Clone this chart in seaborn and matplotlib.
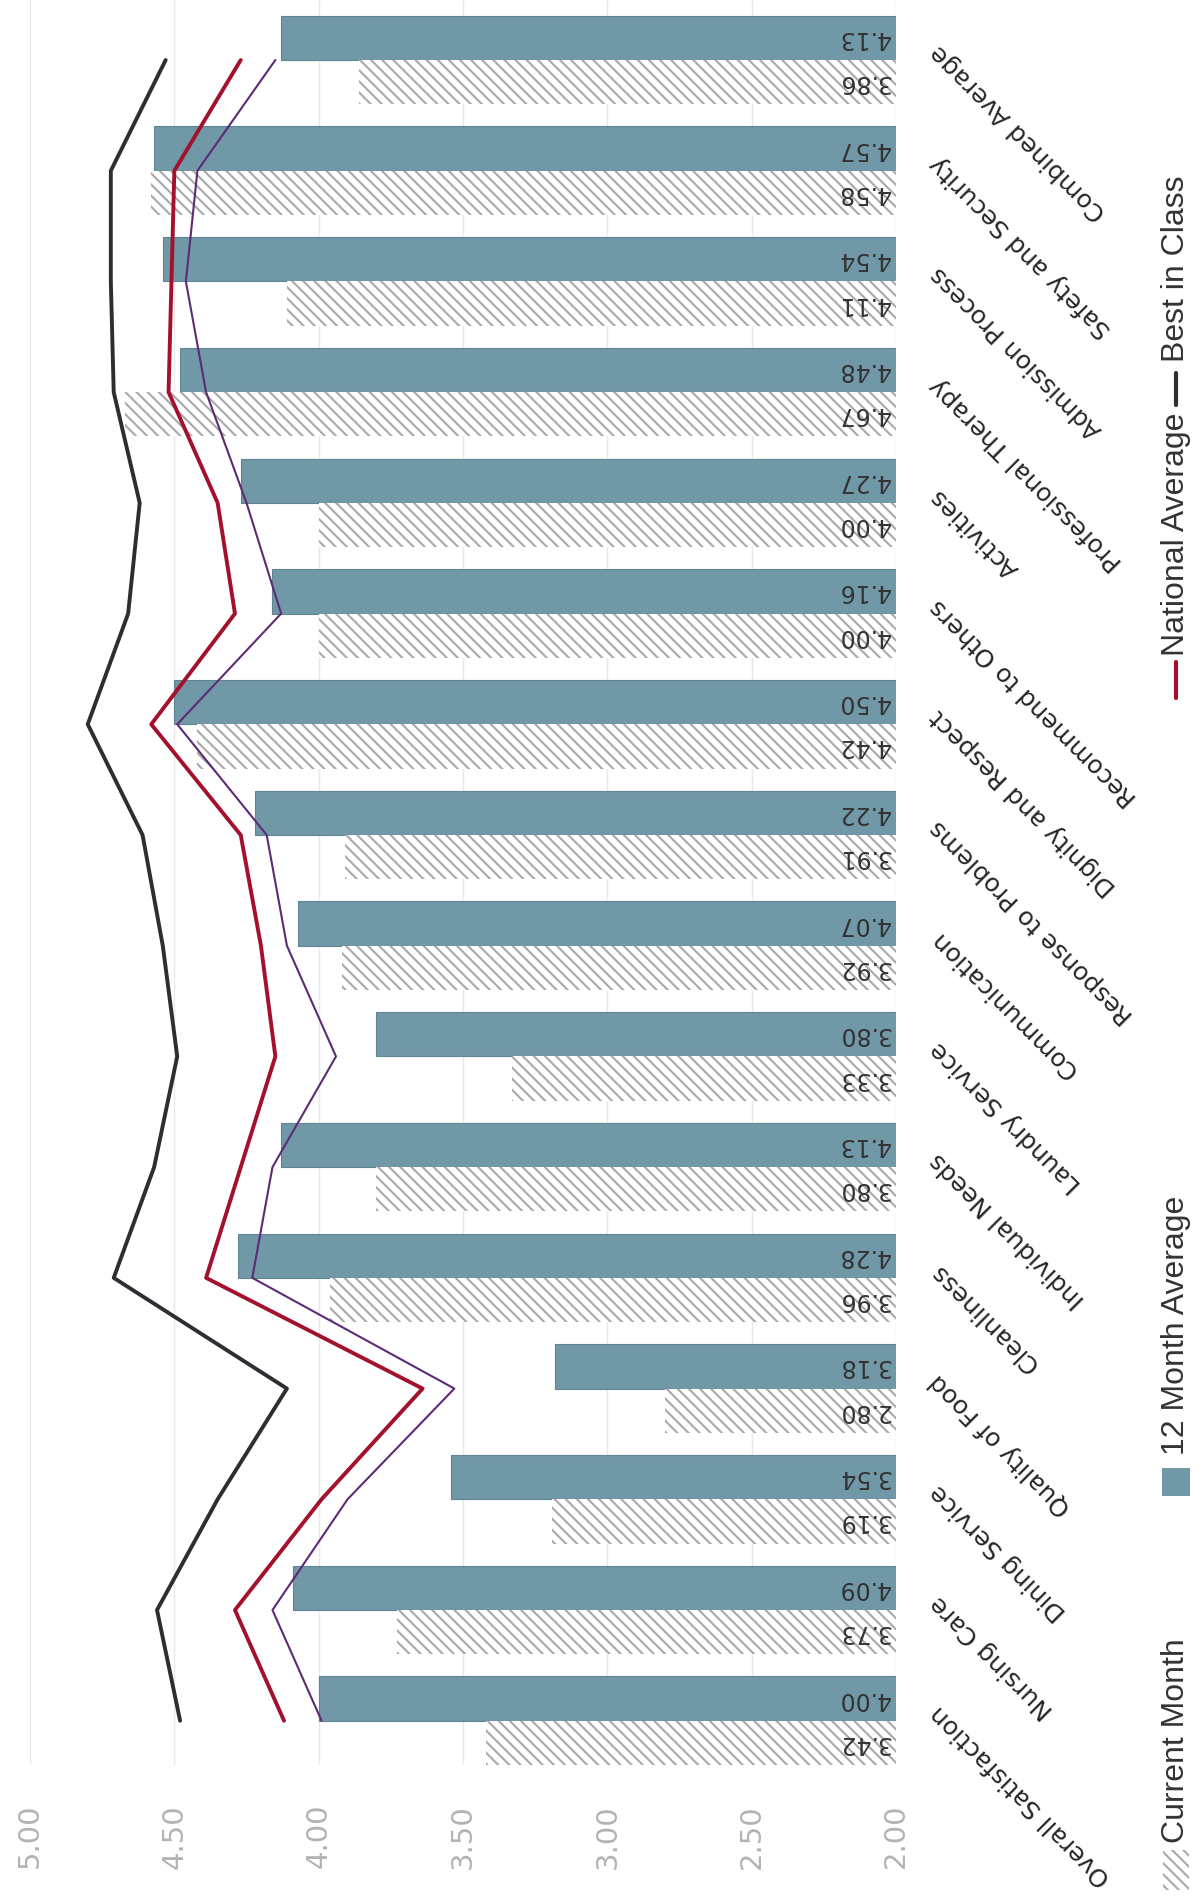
import pandas as pd
import matplotlib.pyplot as plt
import seaborn as sns
from matplotlib.patches import Rectangle
from matplotlib.lines import Line2D
from matplotlib.transforms import blended_transform_factory, ScaledTranslation

# data, in chart order (first category is the bottom row of the rotated page)
categories = ["Overall Satisfaction", "Nursing Care", "Dining Service", "Quality of Food",
              "Cleanliness", "Individual Needs", "Laundry Service", "Communication",
              "Response to Problems", "Dignity and Respect", "Recommend to Others",
              "Activities", "Professional Therapy", "Admission Process",
              "Safety and Security", "Combined Average"]
month12 = [4.00, 4.09, 3.54, 3.18, 4.28, 4.13, 3.80, 4.07, 4.22, 4.50, 4.16, 4.27, 4.48, 4.54, 4.57, 4.13]
current = [3.42, 3.73, 3.19, 2.80, 3.96, 3.80, 3.33, 3.92, 3.91, 4.42, 4.00, 4.00, 4.67, 4.11, 4.58, 3.86]
best_in_class = [4.48, 4.56, 4.35, 4.11, 4.71, 4.57, 4.49, 4.54, 4.61, 4.80, 4.66, 4.62, 4.71, 4.72, 4.72, 4.53]
national_avg = [4.12, 4.29, 3.99, 3.64, 4.39, 4.27, 4.15, 4.20, 4.27, 4.58, 4.29, 4.35, 4.52, 4.51, 4.50, 4.27]
trend_line = [3.99, 4.16, 3.90, 3.53, 4.23, 4.16, 3.94, 4.11, 4.18, 4.49, 4.13, 4.25, 4.39, 4.46, 4.42, 4.15]
value_ticks = [5.0, 4.5, 4.0, 3.5, 3.0, 2.5, 2.0]

BAR_BLUE = "#7198a7"
HATCH_GRAY = "#a9a9a9"
BEST_COL = "#2b2e33"
NAT_COL = "#a3112c"
TREND_COL = "#5d2b76"

sns.set_theme(style="white")
plt.rcParams['font.family'] = ['DejaVu Sans']
plt.rcParams['hatch.linewidth'] = 1.5

W, H = 1204, 1900
fig = plt.figure(figsize=(W / 100, H / 100), dpi=100)
ax = fig.add_axes([30 / W, 1 - 1765 / H, 866 / W, 1765 / H])

order = categories[::-1]
df = pd.DataFrame({
    "category": categories * 2,
    "score": month12 + current,
    "series": ["12 Month Average"] * len(categories) + ["Current Month"] * len(categories),
})
sns.barplot(data=df, x="score", y="category", hue="series", order=order,
            hue_order=["12 Month Average", "Current Month"],
            palette={"12 Month Average": BAR_BLUE, "Current Month": "white"},
            orient="h", width=0.8, saturation=1, legend=False, ax=ax)

for p in ax.containers[0]:
    p.set_edgecolor("#5f8594")
    p.set_linewidth(0.8)
for p in ax.containers[1]:
    p.set_hatch("\\\\\\")
    p.set_edgecolor(HATCH_GRAY)
    p.set_linewidth(0)

ypos = [order.index(c) for c in categories]
ax.plot(best_in_class, ypos, color=BEST_COL, lw=2.8, zorder=5)
ax.plot(national_avg, ypos, color=NAT_COL, lw=2.8, zorder=5)
ax.plot(trend_line, ypos, color=TREND_COL, lw=1.5, zorder=5)

# value labels, upside down like the scanned page
for i in range(len(categories)):
    k = ypos[i]
    ax.text(2.02, k - 0.2, f"{month12[i]:.2f}", rotation=180, ha="left", va="center",
            rotation_mode="anchor", fontsize=17, color="#333333", zorder=6)
    ax.text(2.02, k + 0.2, f"{current[i]:.2f}", rotation=180, ha="left", va="center",
            rotation_mode="anchor", fontsize=17, color="#333333", zorder=6)

ax.set_xlim(5, 2)
ax.set_ylim(15.40, -0.542)
ax.set_xticks(value_ticks)
ax.set_xticklabels([f"{t:.2f}" for t in value_ticks])
ax.xaxis.grid(True, color="#e9e9e9", lw=1)
ax.set_axisbelow(True)
ax.set_xlabel("")
ax.set_ylabel("")
ax.tick_params(axis="x", labelrotation=90, labelsize=21, labelcolor="#b3b3b3", length=0, pad=28)
ax.set_yticks(range(len(order)))
ax.set_yticklabels([])
ax.tick_params(axis="y", length=0)

# category names, diagonal, ending just right of the bar bases
lab_tr = blended_transform_factory(ax.transAxes, ax.transData) + \
    ScaledTranslation(38 / 100, 0, fig.dpi_scale_trans)
for k, name in enumerate(order):
    ax.text(1.0, k - 0.1, name, transform=lab_tr, rotation=135, ha="right", va="center",
            rotation_mode="anchor", fontsize=18, color="#262626", clip_on=False)
sns.despine(ax=ax, left=True, bottom=True, right=True, top=True)

# legend, rotated along the right edge
lx = 1176 / W
leg_font = dict(rotation=90, ha="center", va="bottom", fontsize=23,
                family=["Liberation Sans", "DejaVu Sans"], color="#333333")
fig.add_artist(Rectangle((1163 / W, 1 - 1890 / H), 26 / W, 40 / H, transform=fig.transFigure,
                         facecolor="white", edgecolor=HATCH_GRAY, hatch="\\\\\\", linewidth=0))
fig.text(lx, 1 - 1843 / H, "Current Month", **leg_font)
fig.add_artist(Rectangle((1162 / W, 1 - 1496 / H), 28 / W, 28 / H, transform=fig.transFigure,
                         facecolor=BAR_BLUE, linewidth=0))
fig.text(lx, 1 - 1455 / H, "12 Month Average", **leg_font)
fig.add_artist(Line2D([lx, lx], [1 - 698 / H, 1 - 662 / H], color=NAT_COL, lw=3,
                      transform=fig.transFigure))
fig.text(lx, 1 - 656 / H, "National Average", **leg_font)
fig.add_artist(Line2D([lx, lx], [1 - 405 / H, 1 - 373 / H], color=BEST_COL, lw=3,
                      transform=fig.transFigure))
fig.text(lx, 1 - 362 / H, "Best in Class", **leg_font)

fig.savefig("out.png", dpi=100)
